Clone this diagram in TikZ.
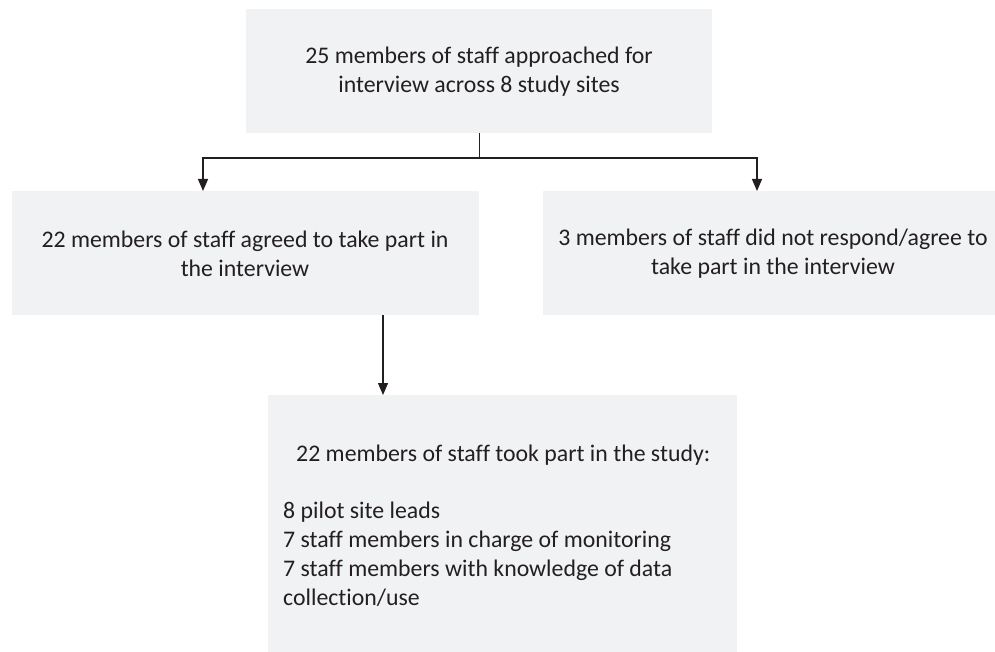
\documentclass[tikz,border=0pt]{standalone}
\usepackage{fontspec}
\setmainfont{Carlito}[Ligatures=NoCommon]
\usetikzlibrary{arrows.meta}
\definecolor{boxgray}{RGB}{241,242,244}
\definecolor{ink}{RGB}{35,31,32}
\begin{document}
\begin{tikzpicture}[x=1pt,y=-1pt,
  box/.style={fill=boxgray, draw=none, inner sep=0pt, anchor=north west},
  txt/.style={text=ink, font=\fontsize{23.8}{29}\selectfont, align=center, inner sep=0pt},
  conn/.style={draw=ink, line width=1.3pt, line join=miter},
  arr/.style={conn, -{Triangle[width=10pt,length=12pt]}}]
\useasboundingbox (0,0) rectangle (995,652);

\node[box, minimum width=466pt, minimum height=124pt] (top) at (246,9) {};
\node[txt] (toptext) at (479,72) {25 members of staff approached for\\interview across 8 study sites};

\node[box, minimum width=467pt, minimum height=124pt] (left) at (12,191) {};
\node[txt] (lefttext) at (245,254) {22 members of staff agreed to take part in\\the interview};

\node[box, minimum width=452pt, minimum height=124pt] (right) at (543,191) {};
\node[txt] (righttext) at (773,254) {3 members of staff did not respond/agree to\\take part in the interview};

\node[box, minimum width=469pt, minimum height=257pt] (bottom) at (268,395) {};
\node[txt, align=flush left, text width=440pt, anchor=north west] (bottomtext) at (283,443)
  {{\centering\rule{0pt}{18pt}22 members of staff took part in the study:\par}\vspace{28pt}8 pilot site leads\\7 staff members in charge of monitoring\\7 staff members with knowledge of data\\collection/use};

\coordinate (jl) at (203,158);
\coordinate (jr) at (757,158);
\coordinate (dx) at (383,315);
\draw[conn] (top.south) -- (top.south |- jl);
\draw[arr] (top.south |- jl) -- (jl) -- (jl |- left.north);
\draw[arr] (top.south |- jr) -- (jr) -- (jr |- right.north);
\draw[arr] (dx) -- (dx |- bottom.north);
\end{tikzpicture}
\end{document}
